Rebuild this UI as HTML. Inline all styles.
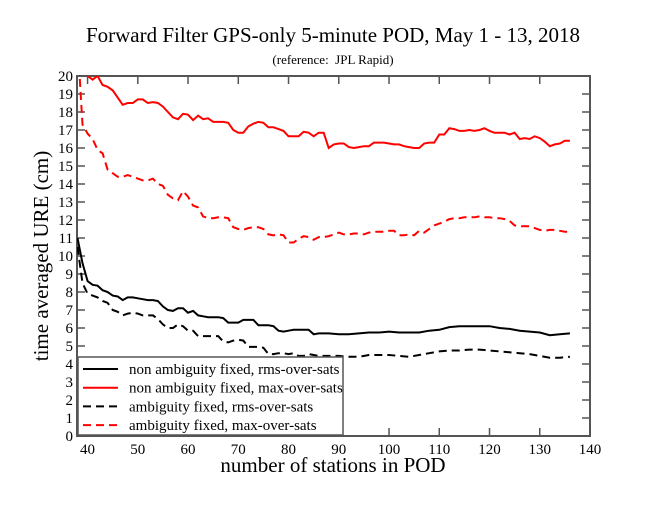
<!DOCTYPE html>
<html><head><meta charset="utf-8"><style>
html,body{margin:0;padding:0;background:#fff;}
svg text{font-family:"Liberation Serif",serif;fill:#000;}
</style></head><body>
<svg id="chart" width="664" height="513" viewBox="0 0 664 513">
<defs><clipPath id="pc"><rect x="77" y="76" width="513" height="360"/></clipPath></defs>
<text x="333" y="42" font-size="21" text-anchor="middle">Forward Filter GPS-only 5-minute POD, May 1 - 13, 2018</text>
<text x="333" y="64" font-size="13" text-anchor="middle">(reference:&#160; JPL Rapid)</text>
<text transform="translate(48,256) rotate(-90)" font-size="21" text-anchor="middle">time averaged URE (cm)</text>
<text x="333" y="472" font-size="21" text-anchor="middle">number of stations in POD</text>
<g id="axes"></g>
<g id="series" clip-path="url(#pc)"></g>
<g id="legend"></g>
</svg>
<script>
const xTicks=[40,50,60,70,80,90,100,110,120,130,140];
const yTicks=[0,1,2,3,4,5,6,7,8,9,10,11,12,13,14,15,16,17,18,19,20];
const xRed=[38,39,40,41,42,43,44,45,46,47,48,49,50,51,52,53,54,55,56,57,58,59,60,61,62,63,64,65,66,67,68,69,70,71,72,73,74,75,76,77,78,79,80,81,82,83,84,85,86,87,88,89,90,91,92,93,94,95,96,97,98,99,100,101,102,103,104,105,106,107,108,109,110,111,112,113,114,115,116,117,118,119,120,121,122,123,124,125,126,127,128,129,130,131,132,133,134,135,136];
const redSolid=[22,20.5,20,19.8,20,19.5,19.4,19.2,18.8,18.4,18.5,18.5,18.7,18.7,18.5,18.55,18.5,18.3,18,17.7,17.6,17.9,17.85,17.55,17.8,17.6,17.65,17.45,17.45,17.45,17.4,17.0,16.85,16.85,17.2,17.35,17.45,17.4,17.15,17.15,17.05,16.95,16.65,16.65,16.65,16.9,16.85,16.65,16.85,16.85,16.0,16.2,16.25,16.25,16.05,16.0,16.05,16.1,16.1,16.3,16.3,16.3,16.25,16.2,16.2,16.1,16.05,16.0,16.0,16.25,16.3,16.3,16.75,16.75,17.1,17.05,16.95,16.95,17.0,16.95,17.0,17.1,16.95,16.85,16.85,16.85,16.75,16.85,16.5,16.55,16.5,16.65,16.55,16.35,16.1,16.2,16.25,16.4,16.4];
const redDashed=[22,17.3,16.8,16.5,15.9,15.7,14.8,14.6,14.4,14.4,14.5,14.4,14.3,14.2,14.2,14.3,14.0,13.9,13.4,13.2,13.1,13.6,13.3,12.8,12.7,12.2,12.1,12.1,12.15,12.15,12.1,11.6,11.5,11.45,11.55,11.6,11.6,11.5,11.2,11.15,11.2,11.15,10.75,10.75,10.95,11.1,11.05,10.9,11.05,11.05,11.1,11.2,11.3,11.2,11.2,11.25,11.25,11.2,11.3,11.35,11.35,11.35,11.4,11.4,11.15,11.15,11.2,11.15,11.4,11.3,11.5,11.7,11.8,11.9,12.05,12.1,12.1,12.15,12.15,12.15,12.2,12.15,12.15,12.1,12.1,12.05,11.95,11.7,11.65,11.65,11.65,11.55,11.45,11.4,11.45,11.45,11.4,11.35,11.35];
const xBlack=[38,39,40,41,42,43,44,45,46,47,48,49,50,51,52,53,54,55,56,57,58,59,60,61,62,63,64,65,66,67,68,69,70,71,72,73,74,75,76,77,78,79,80,81,82,83,84,85,86,87,88,90,92,94,96,98,100,102,104,106,108,110,112,114,116,118,120,122,124,126,128,130,132,134,136];
const blackSolid=[11,9.6,8.6,8.4,8.35,8.1,8.0,7.8,7.75,7.55,7.7,7.7,7.65,7.6,7.55,7.55,7.5,7.2,7.0,6.95,7.1,7.1,6.85,6.95,6.7,6.65,6.6,6.6,6.6,6.55,6.3,6.3,6.3,6.45,6.45,6.45,6.15,6.15,6.15,6.1,5.85,5.8,5.85,5.9,5.9,5.9,5.9,5.65,5.7,5.7,5.7,5.65,5.65,5.7,5.75,5.75,5.8,5.75,5.75,5.75,5.85,5.9,6.05,6.1,6.1,6.1,6.1,6.0,5.95,5.85,5.8,5.75,5.6,5.65,5.7];
const blackDashed=[10.5,8.5,7.9,7.8,7.7,7.5,7.4,7.0,6.9,6.7,6.8,6.85,6.8,6.7,6.7,6.7,6.5,6.2,6.0,6.0,6.2,6.1,5.85,5.85,5.55,5.55,5.55,5.55,5.55,5.25,5.2,5.3,5.35,5.3,4.95,4.95,4.95,4.9,4.55,4.55,4.6,4.6,4.55,4.6,4.45,4.45,4.55,4.5,4.45,4.45,4.45,4.45,4.4,4.4,4.5,4.5,4.5,4.45,4.4,4.5,4.6,4.7,4.75,4.75,4.8,4.8,4.75,4.7,4.65,4.6,4.55,4.45,4.35,4.35,4.4];
const legendLabels=["non ambiguity fixed, rms-over-sats","non ambiguity fixed, max-over-sats","ambiguity fixed, rms-over-sats","ambiguity fixed, max-over-sats"];

const NS="http://www.w3.org/2000/svg";
const L=77,R=590,T=76,B=436,XMIN=37.9,XMAX=140,YMIN=0,YMAX=20;
function sx(v){return L+(v-XMIN)/(XMAX-XMIN)*(R-L);}
function sy(v){return B-(v-YMIN)/(YMAX-YMIN)*(B-T);}
function mk(tag,attrs,parent){const e=document.createElementNS(NS,tag);for(const k in attrs)e.setAttribute(k,attrs[k]);parent.appendChild(e);return e;}
const axes=document.getElementById('axes');
const frame=mk('rect',{x:L,y:T,width:R-L,height:B-T,fill:'none',stroke:'#555','stroke-width':2},axes);


xTicks.forEach(t=>{
  const x=sx(t);
  const tk=mk('path',{d:`M${x},${B}v-8M${x},${T}v8`,stroke:'#555','stroke-width':1.5},axes);
  
  
  const lb=mk('text',{x:x,y:B+18,'font-size':15,'text-anchor':'middle'},axes);
  lb.textContent=t;
  
  
});
yTicks.forEach(t=>{
  const y=sy(t);
  const tk=mk('path',{d:`M${L},${y}h8M${R},${y}h-8`,stroke:'#555','stroke-width':1.5},axes);
  
  
  const lb=mk('text',{x:L-4,y:y+5,'font-size':15,'text-anchor':'end'},axes);
  lb.textContent=t;
  
  
});
const ser=document.getElementById('series');
function line(xs,ys,color,dash,name){
  const d=ys.map((v,i)=>(i?'L':'M')+sx(xs[i]).toFixed(1)+','+sy(v).toFixed(1)).join('');
  const p=mk('path',{d:d,fill:'none',stroke:color,'stroke-width':2,'stroke-dasharray':dash},ser);
  
  
}
line(xRed,redSolid,'#f00','none','series-non-ambiguity-max');
line(xRed,redDashed,'#f00','8,5','series-ambiguity-max');
line(xBlack,blackSolid,'#000','none','series-non-ambiguity-rms');
line(xBlack,blackDashed,'#000','8,5','series-ambiguity-rms');
const lg=document.getElementById('legend');
const box=mk('rect',{x:78,y:357,width:265,height:78,fill:'#fff',stroke:'#555','stroke-width':1.5},lg);


const lc=['#000','#f00','#000','#f00'],ld=['none','none','8,5','8,5'];
legendLabels.forEach((t,i)=>{
  const y=369+i*18.7;
  const s=mk('line',{x1:83,x2:118,y1:y,y2:y,stroke:lc[i],'stroke-width':2,'stroke-dasharray':ld[i]},lg);
  
  
  const tx=mk('text',{x:129,y:y+5,'font-size':15},lg);
  tx.textContent=t;
  
  
});
</script>
</body></html>
